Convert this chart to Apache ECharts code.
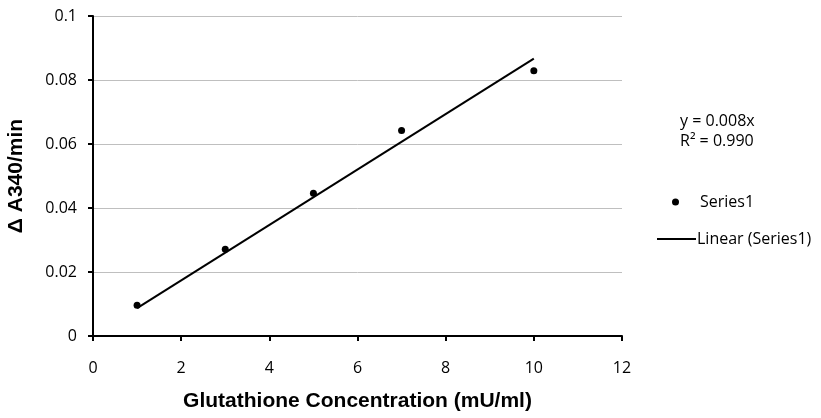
<!DOCTYPE html>
<html><head><meta charset="utf-8">
<script src="https://cdn.jsdelivr.net/npm/echarts@6/dist/echarts.min.js"></script>
<style>html,body{margin:0;padding:0;background:#fff}#c{width:821px;height:418px}</style>
</head><body><div id="c"></div>
<script>
const concentrations = [1, 3, 5, 7, 10];
const rates = [0.0096, 0.0271, 0.0446, 0.0642, 0.0829];
const trendX = [1, 10];
const trendY = [0.0087, 0.0867];
const equationText = 'y = 0.008x';
const r2Text = 'R² = 0.990';
const xTitle = 'Glutathione Concentration (mU/ml)';
const yTitle = 'Δ A340/min';

const font = 'Open Sans, Liberation Sans, sans-serif';
const chart = echarts.init(document.getElementById('c'), null, {renderer: 'canvas'});
chart.setOption({
  animation: false,
  backgroundColor: '#fff',
  grid: {left: 93, right: 199, top: 16, bottom: 82, containLabel: false, outerBoundsMode: 'none'},
  xAxis: {
    type: 'value', min: 0, max: 12, interval: 2,
    name: xTitle, nameLocation: 'middle', nameGap: 55,
    nameTextStyle: {fontFamily: 'Liberation Sans, Arial, sans-serif', fontWeight: 'bold', fontSize: 21, color: '#000'},
    axisLine: {lineStyle: {color: '#000', width: 2}},
    axisTick: {show: true, length: 5, lineStyle: {color: '#000', width: 2}},
    axisLabel: {fontFamily: font, fontSize: 16, color: '#000', margin: 24},
    splitLine: {show: false}
  },
  yAxis: {
    type: 'value', min: 0, max: 0.1, interval: 0.02,
    name: yTitle, nameLocation: 'middle', nameGap: 66, nameRotate: 90,
    nameTextStyle: {fontFamily: 'Liberation Sans, Arial, sans-serif', fontWeight: 'bold', fontSize: 21, color: '#000'},
    axisLine: {show: true, lineStyle: {color: '#000', width: 2}},
    axisTick: {show: true, length: 5, lineStyle: {color: '#000', width: 2}},
    axisLabel: {fontFamily: font, fontSize: 16, color: '#000', margin: 16},
    splitLine: {show: true, lineStyle: {color: '#bfbfbf', width: 1}}
  },
  legend: [{
    data: [{name: 'Series1', icon: 'circle'}],
    left: 672, top: 194, padding: 0, itemWidth: 7, itemHeight: 7,
    textStyle: {fontFamily: font, fontSize: 16, color: '#000', padding: [0, 0, 0, 16]}
  }, {
    data: [{name: 'Linear (Series1)', icon: 'rect'}],
    left: 657, top: 231, padding: 0, itemWidth: 39, itemHeight: 2,
    textStyle: {fontFamily: font, fontSize: 16, color: '#000', padding: [0, 0, 0, -4]}
  }],
  graphic: [
    {type: 'text', left: 680, top: 113, style: {text: equationText, font: '16px ' + font, fill: '#000'}},
    {type: 'text', left: 680, top: 133, style: {text: r2Text, font: '16px ' + font, fill: '#000'}}
  ],
  series: [{
    name: 'Series1', type: 'scatter', symbol: 'circle', symbolSize: 7,
    itemStyle: {color: '#000', opacity: 1},
    data: concentrations.map((x, i) => [x, rates[i]]), z: 3
  }, {
    name: 'Linear (Series1)', type: 'line', symbol: 'none',
    lineStyle: {color: '#000', width: 2}, itemStyle: {color: '#000'},
    data: trendX.map((x, i) => [x, trendY[i]]), z: 2
  }]
});
</script></body></html>
